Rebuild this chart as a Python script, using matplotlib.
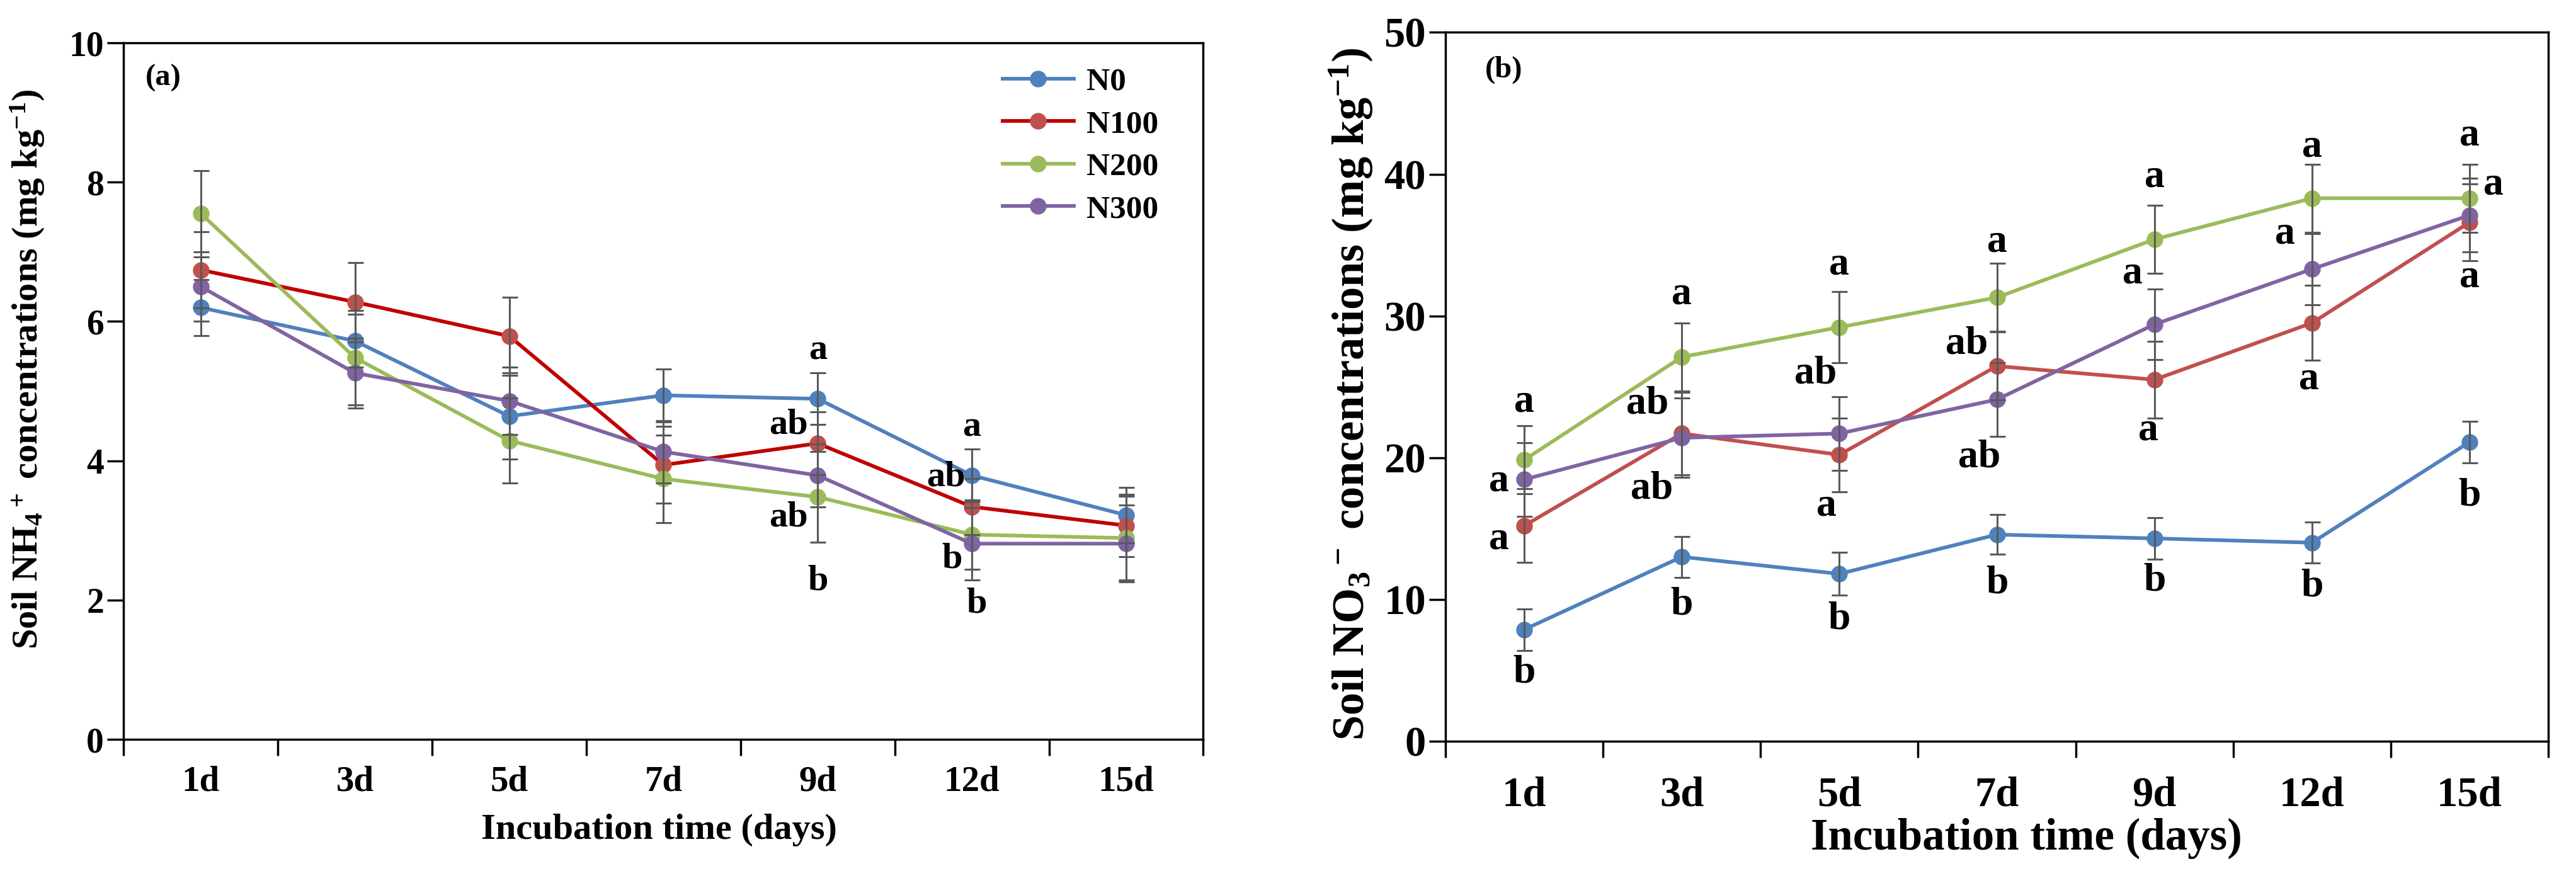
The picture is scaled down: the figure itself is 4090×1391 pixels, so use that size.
import matplotlib.pyplot as plt
import numpy as np

plt.rcParams['font.family'] = 'Liberation Serif'
plt.rcParams['font.weight'] = 'bold'
plt.rcParams['mathtext.fontset'] = 'custom'
plt.rcParams['mathtext.rm'] = 'Liberation Serif'
plt.rcParams['mathtext.it'] = 'Liberation Serif:italic'
plt.rcParams['mathtext.bf'] = 'Liberation Serif:bold'

days = ['1d', '3d', '5d', '7d', '9d', '12d', '15d']
treatments = ['N0', 'N100', 'N200', 'N300']

# (a) soil NH4+ (mg/kg)
nh4_n0 = [6.20, 5.72, 4.64, 4.94, 4.89, 3.79, 3.22]
nh4_n100 = [6.74, 6.28, 5.79, 3.94, 4.25, 3.34, 3.07]
nh4_n200 = [7.55, 5.48, 4.29, 3.74, 3.48, 2.94, 2.89]
nh4_n300 = [6.50, 5.26, 4.86, 4.13, 3.79, 2.81, 2.81]
nh4_n0_err = [0.40, 0.38, 0.62, 0.38, 0.37, 0.38, 0.40]
nh4_n100_err = [0.55, 0.57, 0.56, 0.55, 0.45, 0.40, 0.45]
nh4_n200_err = [0.62, 0.68, 0.61, 0.63, 0.65, 0.50, 0.60]
nh4_n300_err = [0.50, 0.50, 0.48, 0.45, 0.45, 0.52, 0.55]

# (b) soil NO3- (mg/kg)
no3_n0 = [7.87, 13.0, 11.8, 14.57, 14.3, 14.0, 21.1]
no3_n100 = [15.2, 21.7, 20.2, 26.46, 25.5, 29.5, 36.6]
no3_n200 = [19.84, 27.1, 29.2, 31.3, 35.4, 38.3, 38.3]
no3_n300 = [18.46, 21.4, 21.7, 24.1, 29.4, 33.3, 37.1]
no3_n0_err = [1.46, 1.45, 1.5, 1.4, 1.45, 1.45, 1.45]
no3_n100_err = [2.6, 2.9, 2.6, 2.4, 2.7, 2.65, 2.7]
no3_n200_err = [2.4, 2.4, 2.5, 2.4, 2.4, 2.4, 2.4]
no3_n300_err = [2.6, 2.8, 2.6, 2.6, 2.5, 2.5, 2.6]

# significance letters: (day index, y, letter, x shift)
nh4_letters = [(4, 5.58, 'a', 0.0), (4, 4.52, 'ab', -0.19), (4, 3.19, 'ab', -0.19), (4, 2.27, 'b', 0.0),
               (5, 4.48, 'a', 0.0), (5, 3.77, 'ab', -0.17), (5, 2.59, 'b', -0.13), (5, 1.95, 'b', 0.03)]
no3_letters = [(0, 23.9, 'a', 0.0), (0, 18.3, 'a', -0.16), (0, 14.25, 'a', -0.16), (0, 4.8, 'b', 0.0),
               (1, 31.5, 'a', 0.0), (1, 23.8, 'ab', -0.22), (1, 17.8, 'ab', -0.19), (1, 9.6, 'b', 0.0),
               (2, 33.6, 'a', 0.0), (2, 25.9, 'ab', -0.15), (2, 16.6, 'a', -0.08), (2, 8.6, 'b', 0.0),
               (3, 35.2, 'a', 0.0), (3, 28.0, 'ab', -0.19), (3, 20.0, 'ab', -0.11), (3, 11.1, 'b', 0.0),
               (4, 39.8, 'a', 0.0), (4, 33.0, 'a', -0.14), (4, 21.9, 'a', -0.04), (4, 11.3, 'b', 0.0),
               (5, 41.9, 'a', 0.0), (5, 35.8, 'a', -0.17), (5, 25.5, 'a', -0.02), (5, 10.9, 'b', 0.0),
               (6, 42.7, 'a', 0.0), (6, 39.25, 'a', 0.15), (6, 32.7, 'a', 0.0), (6, 17.3, 'b', 0.0)]

marker_colors = ['#4F81BD', '#C0504D', '#9BBB59', '#8064A2']
line_colors_a = ['#4F81BD', '#C00000', '#9BBB59', '#8064A2']
line_colors_b = ['#4F81BD', '#C0504D', '#9BBB59', '#8064A2']
err_color = '#595959'

x = np.arange(len(days))

fig = plt.figure(figsize=(40.91, 13.91), dpi=100)
ax1 = fig.add_axes([0.048, 0.156, 0.419, 0.795])
ax2 = fig.add_axes([0.561, 0.154, 0.428, 0.809])


def draw_panel(ax, series, errs, lcolors, letters, letter_size):
    for vals, err, lc, mc, name in zip(series, errs, lcolors, marker_colors, treatments):
        ax.plot(x, vals, color=lc, lw=4.2, marker='o', ms=18, mfc=mc, mec=mc,
                label=name, zorder=3)
        ax.errorbar(x, vals, yerr=err, fmt='none', ecolor=err_color, elinewidth=2.2,
                    capsize=9, capthick=2.2, zorder=4)
    for i, yv, txt, dx in letters:
        ax.text(x[i] + dx, yv, txt, ha='center', va='center', fontsize=letter_size,
                fontweight='bold', zorder=5)
    ax.set_xlim(-0.5, len(days) - 0.5)
    ax.set_xticks(np.arange(-0.5, len(days) + 0.5, 1))
    ax.set_xticklabels([])
    ax.set_xticks(x, labels=days, minor=True)
    for side in ['top', 'right', 'bottom', 'left']:
        ax.spines[side].set_linewidth(2.5)
    ax.tick_params(axis='x', which='major', direction='out', length=19, width=2.5)
    ax.tick_params(axis='y', direction='out', length=19, width=2.5)


# ---------------- (a) NH4+ ----------------
draw_panel(ax1, [nh4_n0, nh4_n100, nh4_n200, nh4_n300],
           [nh4_n0_err, nh4_n100_err, nh4_n200_err, nh4_n300_err],
           line_colors_a, nh4_letters, 42)
ax1.set_ylim(0, 10)
ax1.set_yticks(np.arange(0, 11, 2))
ax1.tick_params(axis='x', which='minor', length=0, pad=30, labelsize=41)
ax1.tick_params(axis='y', labelsize=40)
ax1.set_ylabel(r'Soil NH$_4$$^+$ concentrations (mg kg$^{-1}$)', fontsize=42, fontweight='bold')
ax1.yaxis.set_label_coords(-0.089, 0.532)
ax1.yaxis.label.set_va('center')
ax1.set_xlabel('Incubation time (days)', fontsize=42, fontweight='bold')
ax1.xaxis.set_label_coords(0.496, -0.13)
ax1.xaxis.label.set_va('center')
ax1.text(0.02, 0.95, '(a)', transform=ax1.transAxes, fontsize=35, fontweight='bold',
         va='center', ha='left')
ax1.legend(loc='upper left', bbox_to_anchor=(0.814, 0.965), frameon=False, fontsize=37,
           handlelength=2.2, labelspacing=0.4, handletextpad=0.4, borderpad=0,
           borderaxespad=0)

# ---------------- (b) NO3- ----------------
draw_panel(ax2, [no3_n0, no3_n100, no3_n200, no3_n300],
           [no3_n0_err, no3_n100_err, no3_n200_err, no3_n300_err],
           line_colors_b, no3_letters, 46)
ax2.set_ylim(0, 50)
ax2.set_yticks(np.arange(0, 51, 10))
ax2.tick_params(axis='x', which='minor', length=0, pad=40, labelsize=48)
ax2.tick_params(axis='y', labelsize=48)
ax2.set_ylabel(r'Soil NO$_3$$^-$ concentrations (mg kg$^{-1}$)', fontsize=52, fontweight='bold')
ax2.yaxis.set_label_coords(-0.086, 0.49)
ax2.yaxis.label.set_va('center')
ax2.set_xlabel('Incubation time (days)', fontsize=51, fontweight='bold')
ax2.xaxis.set_label_coords(0.527, -0.137)
ax2.xaxis.label.set_va('center')
ax2.text(0.036, 0.947, '(b)', transform=ax2.transAxes, fontsize=35, fontweight='bold',
         va='center', ha='left')

fig.savefig('out.png', dpi=100)
